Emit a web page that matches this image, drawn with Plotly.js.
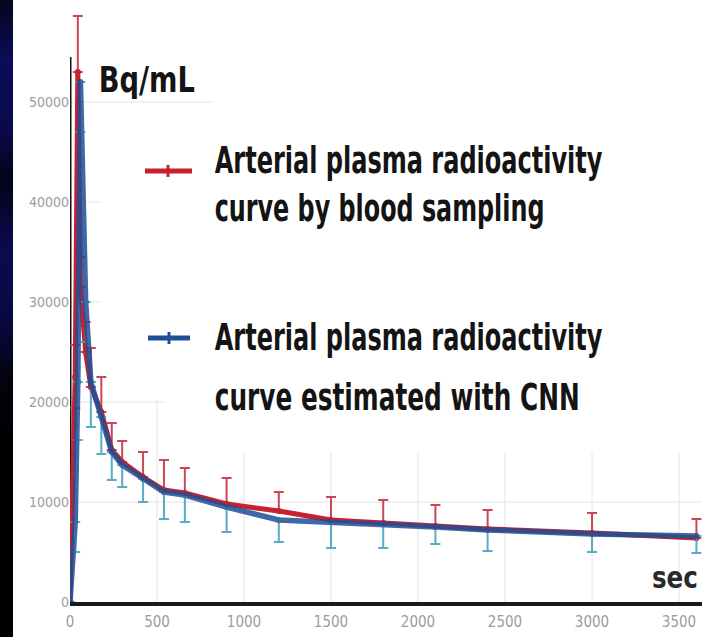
<!DOCTYPE html>
<html>
<head>
<meta charset="utf-8">
<script src="https://cdn.plot.ly/plotly-3.0.1.min.js"></script>
<style>
  html, body { margin: 0; padding: 0; background: #ffffff; }
  #wrap { position: relative; width: 702px; height: 637px; overflow: hidden; }
  #chart { position: absolute; left: 0; top: 0; width: 702px; height: 637px; }
  #strip { position: absolute; left: 0; top: 0; width: 13px; height: 637px; z-index: 5;
    background: linear-gradient(to bottom, #05051e 0px, #0b0c5a 60px, #0a0a4a 130px, #04041a 180px,
      #0a0a50 250px, #090940 320px, #03030f 380px, #000000 450px, #000000 637px); }
</style>
</head>
<body>
<div id="wrap"><div id="chart"></div><div id="strip"></div></div>
<script>
// ---- data ----
var timeSec = [0, 30, 45, 60, 90, 120, 180, 240, 300, 420, 540, 660, 900, 1200, 1500, 1800, 2100, 2400, 3000, 3600];
var samplingValues = [0, 22500, 53000, 31500, 25000, 21500, 19000, 15200, 14000, 12500, 11200, 10900, 9800, 9100, 8200, 7900, 7600, 7300, 6900, 6400];
var samplingErrPlus = [0, 3200, 5600, 3000, 3000, 3900, 3500, 2700, 2100, 2500, 3000, 2500, 2600, 1900, 2300, 2300, 2100, 1900, 2000, 1900];
var samplingErrMinus = [0, 3100, 0, 0, 0, 0, 0, 0, 0, 0, 0, 0, 0, 0, 0, 0, 0, 0, 0, 0];
var cnnValues = [0, 8000, 22000, 52000, 30000, 22000, 18500, 15000, 13700, 12300, 11000, 10700, 9500, 8200, 8000, 7800, 7500, 7200, 6800, 6600];
var cnnErrMinus = [0, 3000, 5800, 5000, 4000, 4500, 3700, 2800, 2200, 2300, 2700, 2700, 2500, 2200, 2600, 2400, 1700, 2100, 1800, 1700];
var cnnErrPlus = [0, 0, 0, 0, 0, 0, 0, 0, 0, 0, 0, 0, 0, 0, 0, 0, 0, 0, 0, 0];
var xTicks = [0, 500, 1000, 1500, 2000, 2500, 3000, 3500];
var yTicks = [0, 10000, 20000, 30000, 40000, 50000];
var unitY = "Bq/mL";
var unitX = "sec";
var legendSampling = ["Arterial plasma radioactivity", "curve by blood sampling"];
var legendCnn = ["Arterial plasma radioactivity", "curve estimated with CNN"];

// ---- layout geometry helpers (pixel -> paper) ----
var W = 702, H = 637, ML = 70, MR = 0, MT = 0, MB = 35;
var PW = W - ML - MR, PH = H - MT - MB;
function px(x) { return (x - ML) / PW; }
function py(y) { return (H - MB - y) / PH; }

var cond = '"DejaVu Sans Condensed", "Liberation Sans Narrow", "Liberation Sans", sans-serif';

var red = '#c8202e';
var blue = '#1e4f96';
var gridCol = '#e4e4e4';

var traces = [
  {
    x: timeSec, y: samplingValues, type: 'scatter', mode: 'lines+markers',
    line: { color: red, width: 5 },
    marker: { color: red, size: 6 },
    error_y: { type: 'data', symmetric: false, array: samplingErrPlus, arrayminus: samplingErrMinus,
      color: '#cc4658', thickness: 2, width: 5 },
    showlegend: false, hoverinfo: 'skip'
  },
  {
    x: timeSec, y: cnnValues, type: 'scatter', mode: 'lines+markers',
    line: { color: blue, width: 5.5 },
    marker: { color: blue, size: 6 },
    opacity: 0.85,
    error_y: { type: 'data', symmetric: false, array: cnnErrPlus, arrayminus: cnnErrMinus,
      color: '#3a9fbf', thickness: 2, width: 5 },
    showlegend: false, hoverinfo: 'skip'
  }
];

function gridH(v, x0px, x1px) {
  return { type: 'line', xref: 'paper', yref: 'y', x0: px(x0px), x1: px(x1px), y0: v, y1: v,
    line: { color: gridCol, width: 1 }, layer: 'below' };
}
function gridV(v, ytopPx) {
  return { type: 'line', xref: 'x', yref: 'paper', x0: v, x1: v, y0: 0, y1: py(ytopPx),
    line: { color: gridCol, width: 1 }, layer: 'below' };
}

var shapes = [
  gridH(yTicks[1], 70, 702),
  gridH(yTicks[2], 70, 165),
  gridH(yTicks[3], 70, 100),
  gridH(yTicks[4], 70, 100),
  gridH(yTicks[5], 70, 212),
  gridV(xTicks[1], 400),
  gridV(xTicks[2], 452), gridV(xTicks[3], 452), gridV(xTicks[4], 452),
  gridV(xTicks[5], 452), gridV(xTicks[6], 452), gridV(xTicks[7], 452),
  // y axis line (stops below the top)
  { type: 'line', xref: 'x', yref: 'y', x0: 0, x1: 0, y0: 0, y1: 54500,
    line: { color: '#111111', width: 3 }, layer: 'below' },
  // legend samples
  { type: 'line', xref: 'paper', yref: 'paper', x0: px(145), x1: px(192), y0: py(171), y1: py(171),
    line: { color: red, width: 5 } },
  { type: 'line', xref: 'paper', yref: 'paper', x0: px(168), x1: px(168), y0: py(165), y1: py(177),
    line: { color: red, width: 3 } },
  { type: 'line', xref: 'paper', yref: 'paper', x0: px(148), x1: px(190), y0: py(338), y1: py(338),
    line: { color: blue, width: 5 } },
  { type: 'line', xref: 'paper', yref: 'paper', x0: px(169), x1: px(169), y0: py(332), y1: py(344),
    line: { color: blue, width: 3 } }
];

// text placement: [left px, centre px, font size, target width px]
var textSpecs = [
  [unitY, 98, 80, 35, 96],
  [legendSampling[0], 214, 160, 38, 388],
  [legendSampling[1], 214, 208, 38, 330],
  [legendCnn[0], 214, 337, 38, 388],
  [legendCnn[1], 214, 397, 38, 365],
  [unitX, 651, 577, 31, 46]
];

var annotations = textSpecs.map(function (s, i) {
  return { text: s[0], xref: 'paper', yref: 'paper', x: px(s[1]), y: py(s[2]),
    xanchor: 'left', yanchor: 'middle', align: 'left', showarrow: false, borderpad: 0,
    font: { family: cond, size: s[3], color: i === 5 ? '#2a2a2a' : '#141414', weight: 'bold' } };
});

var layout = {
  width: W, height: H,
  margin: { l: ML, r: MR, t: MT, b: MB, pad: 0 },
  paper_bgcolor: '#ffffff', plot_bgcolor: '#ffffff',
  xaxis: {
    range: [0, 3632], tickvals: xTicks, ticktext: xTicks.map(String),
    showgrid: false, zeroline: false, showline: true, linecolor: '#1a1a1a', linewidth: 4,
    ticks: '', ticklabelstandoff: 3, tickfont: { family: cond, size: 15, color: '#9c9c9c' }
  },
  yaxis: {
    range: [0, 60200], tickvals: yTicks, ticktext: yTicks.map(String),
    showgrid: false, zeroline: false, showline: false,
    ticks: '', tickfont: { family: cond, size: 14, color: '#9c9c9c' }
  },
  shapes: shapes,
  annotations: annotations,
  showlegend: false
};

Plotly.newPlot('chart', traces, layout, { displayModeBar: false, staticPlot: true }).then(function (gd) {
  // compress the whole annotation group horizontally (condensed look), anchored at its left edge
  var groups = gd.querySelectorAll('g.annotation');
  for (var i = 0; i < groups.length && i < textSpecs.length; i++) {
    var t = groups[i].querySelector('text.annotation-text');
    if (!t) continue;
    var natural = t.getComputedTextLength();
    if (!natural) continue;
    var k = textSpecs[i][4] / natural;
    var x0 = textSpecs[i][1];
    groups[i].setAttribute('transform', 'translate(' + x0 + ',0) scale(' + k + ',1) translate(' + (-x0) + ',0)');
  }
});
</script>
</body>
</html>
